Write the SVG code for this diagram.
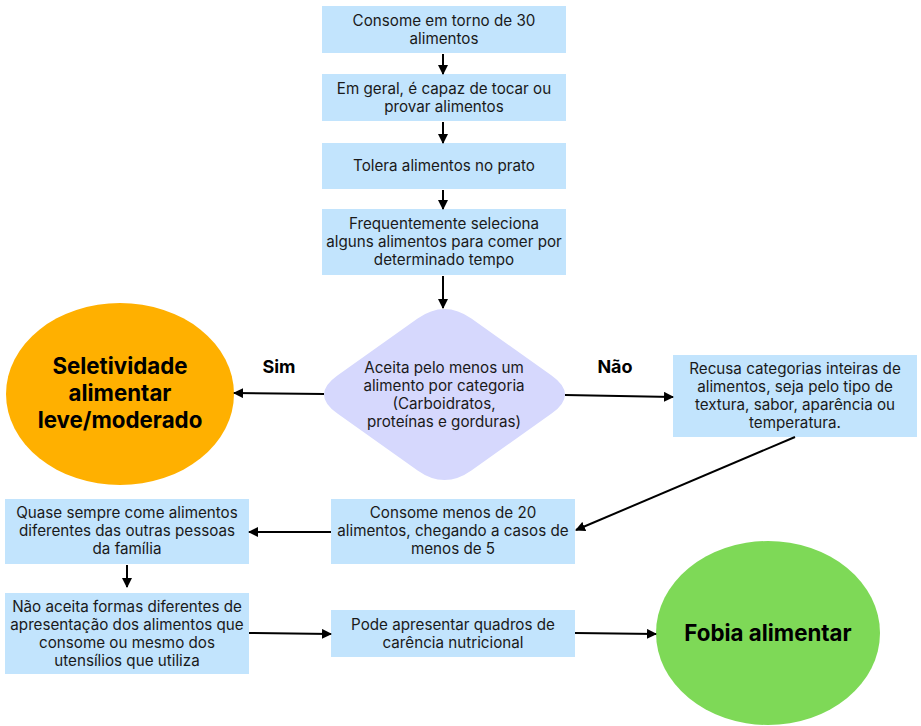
<svg xmlns="http://www.w3.org/2000/svg" width="921" height="726" viewBox="0 0 921 726">
<defs>
<marker id="ah" viewBox="0 0 10 10" refX="9" refY="5" markerWidth="5" markerHeight="5" orient="auto" markerUnits="strokeWidth">
<path d="M0,0 L10,5 L0,10 z" fill="#000"/>
</marker>
<style>
.box{fill:#C2E4FD;}
.t{font-family:Inter,"Open Sans","Liberation Sans",sans-serif;font-size:15.2px;fill:#1a1a1a;text-anchor:middle;}
.b{font-family:Inter,"Open Sans","Liberation Sans",sans-serif;font-weight:bold;fill:#000;text-anchor:middle;}
.c{stroke:#000;stroke-width:2;fill:none;marker-end:url(#ah);}
</style>
</defs>
<rect width="921" height="726" fill="#fff"/>
<g id="n1"><rect class="box" x="322" y="6" width="244" height="47"/>
<text class="t" x="444" y="26">Consome em torno de 30</text><text class="t" x="444" y="44">alimentos</text></g>
<g id="n2"><rect class="box" x="322" y="74" width="244" height="47"/>
<text class="t" x="444" y="94">Em geral, é capaz de tocar ou</text><text class="t" x="444" y="112">provar alimentos</text></g>
<g id="n3"><rect class="box" x="322" y="143" width="244" height="46"/>
<text class="t" x="444" y="171">Tolera alimentos no prato</text></g>
<g id="n4"><rect class="box" x="322" y="209" width="244" height="66"/>
<text class="t" x="444" y="229">Frequentemente seleciona</text><text class="t" x="444" y="247">alguns alimentos para comer por</text><text class="t" x="444" y="265">determinado tempo</text></g>
<g id="d1"><path d="M417.6,318.6 Q444.5,299.5 471.4,318.6 L551.6,375.4 Q578.5,394.5 551.6,413.6 L471.4,470.4 Q444.5,489.5 417.6,470.4 L337.4,413.6 Q310.5,394.5 337.4,375.4 Z" fill="#D6D8FD"/>
<text class="t" x="444" y="373">Aceita pelo menos um</text><text class="t" x="444" y="391">alimento por categoria</text><text class="t" x="444" y="409">(Carboidratos,</text><text class="t" x="444" y="427">proteínas e gorduras)</text></g>
<g id="e1"><ellipse cx="120" cy="394" rx="114" ry="91" fill="#FFB000"/>
<text class="b" font-size="22.3" x="120" y="374">Seletividade</text><text class="b" font-size="22.3" x="120" y="401">alimentar</text><text class="b" font-size="22.3" x="120" y="428">leve/moderado</text></g>
<g id="n5"><rect class="box" x="673" y="355" width="244" height="82"/>
<text class="t" x="795" y="374">Recusa categorias inteiras de</text><text class="t" x="795" y="392">alimentos, seja pelo tipo de</text><text class="t" x="795" y="410">textura, sabor, aparência ou</text><text class="t" x="795" y="428">temperatura.</text></g>
<g id="n6"><rect class="box" x="331" y="499" width="244" height="65"/>
<text class="t" x="453" y="518">Consome menos de 20</text><text class="t" x="453" y="536">alimentos, chegando a casos de</text><text class="t" x="453" y="554">menos de 5</text></g>
<g id="n7"><rect class="box" x="5" y="499" width="244" height="65"/>
<text class="t" x="127" y="518">Quase sempre come alimentos</text><text class="t" x="127" y="536">diferentes das outras pessoas</text><text class="t" x="127" y="554">da família</text></g>
<g id="n8"><rect class="box" x="5" y="593" width="244" height="81"/>
<text class="t" x="127" y="612">Não aceita formas diferentes de</text><text class="t" x="127" y="630">apresentação dos alimentos que</text><text class="t" x="127" y="648">consome ou mesmo dos</text><text class="t" x="127" y="666">utensílios que utiliza</text></g>
<g id="n9"><rect class="box" x="331" y="610" width="244" height="47"/>
<text class="t" x="453" y="630">Pode apresentar quadros de</text><text class="t" x="453" y="648">carência nutricional</text></g>
<g id="e2"><ellipse cx="768" cy="633" rx="112" ry="92" fill="#7ED957"/>
<text class="b" font-size="22.3" x="768" y="641">Fobia alimentar</text></g>
<g id="connectors">
<line class="c" x1="443" y1="54" x2="443" y2="74"/>
<line class="c" x1="443" y1="122" x2="443" y2="143"/>
<line class="c" x1="443" y1="190" x2="443" y2="209"/>
<line class="c" x1="443" y1="276" x2="443" y2="308"/>
<line class="c" x1="324" y1="394" x2="234" y2="393"/>
<line class="c" x1="565" y1="395" x2="673" y2="397"/>
<line class="c" x1="795" y1="437" x2="576" y2="530"/>
<line class="c" x1="331" y1="532" x2="249" y2="532"/>
<line class="c" x1="127" y1="565" x2="127" y2="587"/>
<line class="c" x1="249" y1="633" x2="331" y2="634"/>
<line class="c" x1="575" y1="633" x2="656" y2="634"/>
<text class="b" font-size="18" x="279" y="373">Sim</text>
<text class="b" font-size="18" x="615" y="373">Não</text>
</g>
</svg>
